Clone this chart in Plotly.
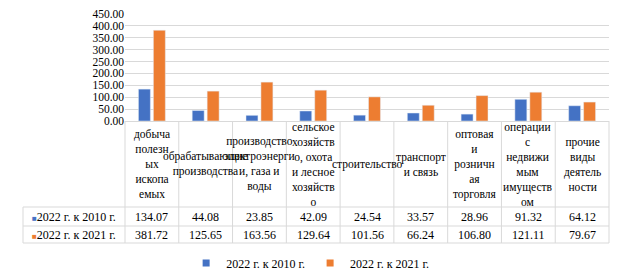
import plotly.graph_objects as go

# ---- data ----
categories = [
    "добыча полезных ископаемых",
    "обрабатывающие производства",
    "производство электроэнергии, газа и воды",
    "сельское хозяйство, охота и лесное хозяйство",
    "строительство",
    "транспорт и связь",
    "оптовая и розничная торговля",
    "операции с недвижимым имуществом",
    "прочие виды деятельности",
]
category_labels = [
    "добыча<br>полезн<br>ых<br>ископа<br>емых",
    "обрабатывающие<br>производства",
    "производство<br>электроэнерги<br>и, газа и<br>воды",
    "сельское<br>хозяйств<br>о, охота<br>и лесное<br>хозяйств<br>о",
    "строительство",
    "транспорт<br>и связь",
    "оптовая<br>и<br>розничн<br>ая<br>торговля",
    "операции<br>с<br>недвижи<br>мым<br>имуществ<br>ом",
    "прочие<br>виды<br>деятель<br>ности",
]
series_names = ["2022 г. к 2010 г.", "2022 г. к 2021 г."]
vals_2010 = [134.07, 44.08, 23.85, 42.09, 24.54, 33.57, 28.96, 91.32, 64.12]
vals_2021 = [381.72, 125.65, 163.56, 129.64, 101.56, 66.24, 106.80, 121.11, 79.67]
y_ticks = [0, 50, 100, 150, 200, 250, 300, 350, 400, 450]

colors = ["#4472C4", "#ED7D31"]
FONT = "Liberation Serif"
GRID = "#d9d9d9"

W, H = 624, 279
ML, MR, MT, MB = 23, 15, 14, 158
plot_h = H - MT - MB
first_col_w = 102
dom0 = first_col_w / (W - ML - MR)

def py(pixel_y):
    # pixel row -> paper y
    return (H - MB - pixel_y) / plot_h

y_cat_bottom = py(207)
y_row1_bottom = py(226)
y_row2_bottom = py(243)

fig = go.Figure()
series = [vals_2010, vals_2021]
for name, vals, c in zip(series_names, series, colors):
    fig.add_trace(go.Bar(x=categories, y=vals, name=name, marker_color=c,
                         showlegend=False))
    fig.add_trace(go.Scatter(x=[None], y=[None], mode="markers", name=name,
                             marker=dict(symbol="square", size=7, color=c),
                             showlegend=True))

shapes = []
line = dict(color=GRID, width=1)
for yy in [y_cat_bottom, y_row1_bottom, y_row2_bottom]:
    shapes.append(dict(type="line", xref="paper", yref="paper", x0=0, x1=1,
                       y0=yy, y1=yy, line=line))
shapes.append(dict(type="line", xref="paper", yref="paper", x0=0, x1=0,
                   y0=y_cat_bottom, y1=y_row2_bottom, line=line))
for xd in [0, 1]:
    shapes.append(dict(type="line", xref="x domain", yref="paper", x0=xd, x1=xd,
                       y0=0, y1=y_row2_bottom, line=line))
for i in range(len(categories) - 1):
    shapes.append(dict(type="line", xref="x", yref="paper", x0=i + 0.5, x1=i + 0.5,
                       y0=0, y1=y_row2_bottom, line=line))

annotations = []
for cat, lab in zip(categories, category_labels):
    annotations.append(dict(x=cat, y=(0 + y_cat_bottom) / 2, xref="x", yref="paper",
                            text=lab, showarrow=False, xanchor="center", yanchor="middle",
                            font=dict(family=FONT, size=11.5, color="#000")))
row_ys = [(y_cat_bottom + y_row1_bottom) / 2, (y_row1_bottom + y_row2_bottom) / 2]
for name, vals, c, yy in zip(series_names, series, colors, row_ys):
    for cat, v in zip(categories, vals):
        annotations.append(dict(x=cat, y=yy, xref="x", yref="paper", text=f"{v:.2f}",
                                showarrow=False, xanchor="center", yanchor="middle",
                                font=dict(family=FONT, size=12, color="#000")))
    annotations.append(dict(x=dom0 / 2, y=yy, xref="paper", yref="paper",
                            text=f"<span style='color:{c};font-size:8px'>■</span>{name}",
                            showarrow=False, xanchor="center", yanchor="middle",
                            font=dict(family=FONT, size=12, color="#000")))

fig.update_layout(
    width=W, height=H,
    margin=dict(l=ML, r=MR, t=MT, b=MB, autoexpand=False),
    paper_bgcolor="white", plot_bgcolor="white",
    barmode="group", bargap=0.444, bargroupgap=0.2,
    font=dict(family=FONT, size=12, color="#000"),
    xaxis=dict(domain=[dom0, 1], range=[-0.5, len(categories) - 0.5],
               showticklabels=False, showgrid=False, zeroline=False, ticks="",
               automargin=False),
    yaxis=dict(range=[0, 450], tickvals=y_ticks, tickformat=".2f",
               showgrid=True, gridcolor=GRID, gridwidth=1,
               zeroline=True, zerolinecolor=GRID, zerolinewidth=1,
               showline=False, ticks="", automargin=False,
               tickfont=dict(family=FONT, size=11.5, color="#000")),
    legend=dict(orientation="h", x=0.49, xanchor="center", y=py(263), yanchor="middle",
                font=dict(family=FONT, size=12, color="#000"), itemwidth=30,
                bgcolor="rgba(0,0,0,0)"),
    shapes=shapes, annotations=annotations,
)

fig.write_html("out.html", config={"displayModeBar": False},
               post_script="document.body.style.margin='0';document.body.style.overflow='hidden';")
